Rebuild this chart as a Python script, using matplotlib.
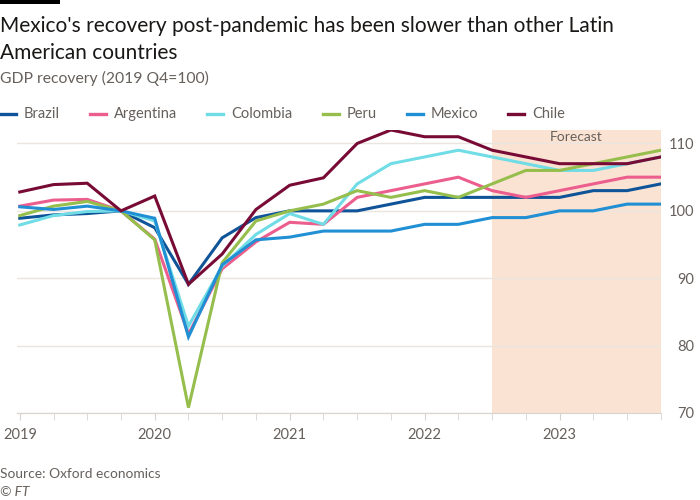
import numpy as np
import matplotlib
matplotlib.use('Agg')
import matplotlib.pyplot as plt
from matplotlib.patches import Rectangle
from matplotlib.lines import Line2D

plt.rcParams['font.family'] = ['Lato', 'DejaVu Sans']

# quarters 2019 Q1 .. 2023 Q4
quarters = [2019 + i * 0.25 for i in range(20)]

brazil    = [98.9, 99.4, 99.6, 100, 97.5, 89.1, 96.0, 99.0, 100, 100, 100, 101, 102, 102, 102, 102, 102, 103, 103, 104]
argentina = [100.7, 101.6, 101.7, 100, 95.8, 81.7, 91.4, 95.4, 98.3, 98, 102, 103, 104, 105, 103, 102, 103, 104, 105, 105]
colombia  = [97.9, 99.3, 99.9, 100, 98.5, 82.9, 91.8, 96.5, 99.6, 98, 104, 107, 108, 109, 108, 107, 106, 106, 107, 108]
peru      = [99.3, 100.7, 101.4, 100, 95.7, 70.8, 92.3, 98.5, 100, 101, 103, 102, 103, 102, 104, 106, 106, 107, 108, 109]
mexico    = [100.6, 100.2, 100.7, 100, 98.9, 81.3, 92.0, 95.7, 96.1, 97, 97, 97, 98, 98, 99, 99, 100, 100, 101, 101]
chile     = [102.8, 103.9, 104.1, 100, 102.2, 89.1, 93.6, 100.2, 103.8, 104.9, 110, 112, 111, 111, 109, 108, 107, 107, 107, 108]

series = [
    ('Brazil', brazil, '#0f5499'),
    ('Argentina', argentina, '#eb5e8d'),
    ('Colombia', colombia, '#70dce6'),
    ('Peru', peru, '#96be4c'),
    ('Mexico', mexico, '#208fd4'),
    ('Chile', chile, '#780b35'),
]

year_ticks = [2019, 2020, 2021, 2022, 2023]
forecast_start = 2022.5
forecast_end = 2023.75

W, H = 700, 500
fig = plt.figure(figsize=(7, 5), dpi=100)
ax = fig.add_axes([0.024, 1 - 413 / H, 0.920, (413 - 130) / H])

ax.axvspan(forecast_start, forecast_end, color='#fbe3d3', zorder=0, lw=0)
ax.text((forecast_start + forecast_end) / 2, 111.0, 'Forecast', ha='center', va='center',
        color='#66605c', fontsize=10)

for name, vals, col in series:
    ax.plot(quarters, vals, color=col, lw=2.2, solid_joinstyle='miter')

ax.set_xlim(2018.978, 2023.75)
ax.set_ylim(70, 112)
ax.set_yticks([70, 80, 90, 100, 110])
ax.yaxis.tick_right()
for lab in ax.get_yticklabels():
    lab.set_horizontalalignment('right')
ax.grid(axis='y', color='#ebe5e0', lw=1)
ax.set_axisbelow(True)

ax.set_xticks(year_ticks)
ax.set_xticklabels([str(y) for y in year_ticks])
ax.set_xticks(quarters, minor=True)
ax.tick_params(axis='x', which='both', length=5, color='#d9d3ce', labelcolor='#66605c',
               labelsize=10.5, pad=6)
ax.tick_params(axis='y', length=0, labelcolor='#66605c', labelsize=10.5, pad=24)
for s in ['top', 'left', 'right']:
    ax.spines[s].set_visible(False)
ax.spines['bottom'].set_color('#d9d3ce')

# legend drawn as a row: short line, name, fixed gap
renderer = fig.canvas.get_renderer()
x = 0
for name, vals, col in series:
    fig.add_artist(Line2D([x / W, (x + 16) / W], [1 - 114 / H] * 2, color=col, lw=2.4,
                          transform=fig.transFigure))
    t = fig.text((x + 24) / W, 1 - 118 / H, name, ha='left', va='baseline',
                 fontsize=10.5, color='#66605c')
    x = t.get_window_extent(renderer).x1 + 30

fig.add_artist(Rectangle((0, 0.992), 60 / W, 0.008, transform=fig.transFigure,
                         color='black', lw=0))
fig.text(0.0, 1 - 32 / H, "Mexico's recovery post-pandemic has been slower than other Latin",
         ha='left', va='baseline', fontsize=15, color='#1a1817')
fig.text(0.0, 1 - 59 / H, 'American countries', ha='left', va='baseline', fontsize=15,
         color='#1a1817')
fig.text(0.0, 1 - 83 / H, 'GDP recovery (2019 Q4=100)', ha='left', va='baseline',
         fontsize=11.3, color='#66605c')
fig.text(0.0, 0.052, 'Source: Oxford economics', ha='left', va='center', fontsize=9.9,
         color='#66605c')
fig.text(0.0, 0.016, '© FT', ha='left', va='center', fontsize=9.9, color='#66605c',
         style='italic')

fig.savefig('out.png', dpi=100, facecolor='white')
